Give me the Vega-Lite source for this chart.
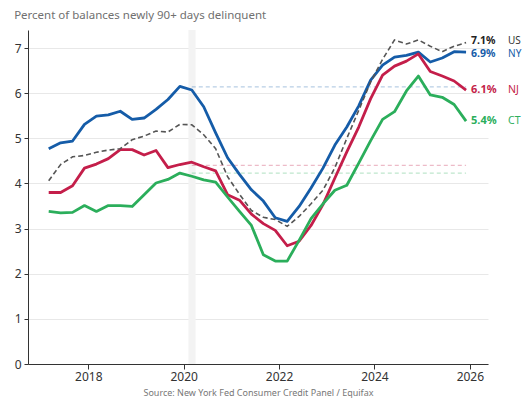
{
  "$schema": "https://vega.github.io/schema/vega-lite/v6.json",
  "width": 460,
  "height": 334,
  "autosize": {"type": "none"},
  "padding": {"left": 28, "top": 30, "right": 39, "bottom": 44},
  "background": "white",
  "config": {"font": "Noto Sans", "view": {"stroke": null}},
  "title": {"text": "Percent of balances newly 90+ days delinquent", "anchor": "start", "fontSize": 11.5, "fontWeight": "normal", "color": "#707070", "offset": 9},
  "datasets": {
    "band": [{"a": 2020.1, "b": 2020.25}],
    "refs": [
      {"s": "NY", "v": 6.14, "a": 2020.17, "b": 2025.92},
      {"s": "NJ", "v": 4.40, "a": 2020.17, "b": 2025.92},
      {"s": "CT", "v": 4.23, "a": 2020.17, "b": 2025.92}
    ],
    "labels": [
      {"s": "US", "t": 2025.92, "v": 7.12, "lab": "7.1%", "name": "US"},
      {"s": "NY", "t": 2025.92, "v": 6.91, "lab": "6.9%", "name": "NY"},
      {"s": "NJ", "t": 2025.92, "v": 6.07, "lab": "6.1%", "name": "NJ"},
      {"s": "CT", "t": 2025.92, "v": 5.38, "lab": "5.4%", "name": "CT"}
    ],
    "series": [
      {"t": 2017.17, "s": "NY", "v": 4.77}, {"t": 2017.42, "s": "NY", "v": 4.90}, {"t": 2017.67, "s": "NY", "v": 4.94}, {"t": 2017.92, "s": "NY", "v": 5.31},
      {"t": 2018.17, "s": "NY", "v": 5.49}, {"t": 2018.42, "s": "NY", "v": 5.52}, {"t": 2018.67, "s": "NY", "v": 5.60}, {"t": 2018.92, "s": "NY", "v": 5.42},
      {"t": 2019.17, "s": "NY", "v": 5.45}, {"t": 2019.42, "s": "NY", "v": 5.64}, {"t": 2019.67, "s": "NY", "v": 5.86}, {"t": 2019.92, "s": "NY", "v": 6.15},
      {"t": 2020.17, "s": "NY", "v": 6.07}, {"t": 2020.42, "s": "NY", "v": 5.70}, {"t": 2020.67, "s": "NY", "v": 5.12}, {"t": 2020.92, "s": "NY", "v": 4.57},
      {"t": 2021.17, "s": "NY", "v": 4.20}, {"t": 2021.42, "s": "NY", "v": 3.86}, {"t": 2021.67, "s": "NY", "v": 3.61}, {"t": 2021.92, "s": "NY", "v": 3.24},
      {"t": 2022.17, "s": "NY", "v": 3.16}, {"t": 2022.42, "s": "NY", "v": 3.49}, {"t": 2022.67, "s": "NY", "v": 3.90}, {"t": 2022.92, "s": "NY", "v": 4.34},
      {"t": 2023.17, "s": "NY", "v": 4.85}, {"t": 2023.42, "s": "NY", "v": 5.25}, {"t": 2023.67, "s": "NY", "v": 5.72}, {"t": 2023.92, "s": "NY", "v": 6.29},
      {"t": 2024.17, "s": "NY", "v": 6.62}, {"t": 2024.42, "s": "NY", "v": 6.80}, {"t": 2024.67, "s": "NY", "v": 6.84}, {"t": 2024.92, "s": "NY", "v": 6.91},
      {"t": 2025.17, "s": "NY", "v": 6.69}, {"t": 2025.42, "s": "NY", "v": 6.78}, {"t": 2025.67, "s": "NY", "v": 6.92}, {"t": 2025.92, "s": "NY", "v": 6.91},

      {"t": 2017.17, "s": "US", "v": 4.06}, {"t": 2017.42, "s": "US", "v": 4.42}, {"t": 2017.67, "s": "US", "v": 4.59}, {"t": 2017.92, "s": "US", "v": 4.62},
      {"t": 2018.17, "s": "US", "v": 4.69}, {"t": 2018.42, "s": "US", "v": 4.74}, {"t": 2018.67, "s": "US", "v": 4.77}, {"t": 2018.92, "s": "US", "v": 4.97},
      {"t": 2019.17, "s": "US", "v": 5.05}, {"t": 2019.42, "s": "US", "v": 5.16}, {"t": 2019.67, "s": "US", "v": 5.14}, {"t": 2019.92, "s": "US", "v": 5.31},
      {"t": 2020.17, "s": "US", "v": 5.30}, {"t": 2020.42, "s": "US", "v": 5.08}, {"t": 2020.67, "s": "US", "v": 4.77}, {"t": 2020.92, "s": "US", "v": 4.15},
      {"t": 2021.17, "s": "US", "v": 3.76}, {"t": 2021.42, "s": "US", "v": 3.40}, {"t": 2021.67, "s": "US", "v": 3.25}, {"t": 2021.92, "s": "US", "v": 3.20},
      {"t": 2022.17, "s": "US", "v": 3.05}, {"t": 2022.42, "s": "US", "v": 3.27}, {"t": 2022.67, "s": "US", "v": 3.55}, {"t": 2022.92, "s": "US", "v": 3.85},
      {"t": 2023.17, "s": "US", "v": 4.35}, {"t": 2023.42, "s": "US", "v": 5.00}, {"t": 2023.67, "s": "US", "v": 5.62}, {"t": 2023.92, "s": "US", "v": 6.25},
      {"t": 2024.17, "s": "US", "v": 6.75}, {"t": 2024.42, "s": "US", "v": 7.18}, {"t": 2024.67, "s": "US", "v": 7.09}, {"t": 2024.92, "s": "US", "v": 7.18},
      {"t": 2025.17, "s": "US", "v": 7.04}, {"t": 2025.42, "s": "US", "v": 6.92}, {"t": 2025.67, "s": "US", "v": 7.04}, {"t": 2025.92, "s": "US", "v": 7.12},

      {"t": 2017.17, "s": "NJ", "v": 3.80}, {"t": 2017.42, "s": "NJ", "v": 3.80}, {"t": 2017.67, "s": "NJ", "v": 3.95}, {"t": 2017.92, "s": "NJ", "v": 4.34},
      {"t": 2018.17, "s": "NJ", "v": 4.43}, {"t": 2018.42, "s": "NJ", "v": 4.55}, {"t": 2018.67, "s": "NJ", "v": 4.75}, {"t": 2018.92, "s": "NJ", "v": 4.75},
      {"t": 2019.17, "s": "NJ", "v": 4.63}, {"t": 2019.42, "s": "NJ", "v": 4.73}, {"t": 2019.67, "s": "NJ", "v": 4.35}, {"t": 2019.92, "s": "NJ", "v": 4.42},
      {"t": 2020.17, "s": "NJ", "v": 4.47}, {"t": 2020.42, "s": "NJ", "v": 4.37}, {"t": 2020.67, "s": "NJ", "v": 4.28}, {"t": 2020.92, "s": "NJ", "v": 3.75},
      {"t": 2021.17, "s": "NJ", "v": 3.63}, {"t": 2021.42, "s": "NJ", "v": 3.32}, {"t": 2021.67, "s": "NJ", "v": 3.11}, {"t": 2021.92, "s": "NJ", "v": 2.96},
      {"t": 2022.17, "s": "NJ", "v": 2.62}, {"t": 2022.42, "s": "NJ", "v": 2.72}, {"t": 2022.67, "s": "NJ", "v": 3.07}, {"t": 2022.92, "s": "NJ", "v": 3.53},
      {"t": 2023.17, "s": "NJ", "v": 4.12}, {"t": 2023.42, "s": "NJ", "v": 4.70}, {"t": 2023.67, "s": "NJ", "v": 5.25}, {"t": 2023.92, "s": "NJ", "v": 5.88},
      {"t": 2024.17, "s": "NJ", "v": 6.40}, {"t": 2024.42, "s": "NJ", "v": 6.60}, {"t": 2024.67, "s": "NJ", "v": 6.71}, {"t": 2024.92, "s": "NJ", "v": 6.87},
      {"t": 2025.17, "s": "NJ", "v": 6.48}, {"t": 2025.42, "s": "NJ", "v": 6.38}, {"t": 2025.67, "s": "NJ", "v": 6.27}, {"t": 2025.92, "s": "NJ", "v": 6.07},

      {"t": 2017.17, "s": "CT", "v": 3.38}, {"t": 2017.42, "s": "CT", "v": 3.35}, {"t": 2017.67, "s": "CT", "v": 3.36}, {"t": 2017.92, "s": "CT", "v": 3.51},
      {"t": 2018.17, "s": "CT", "v": 3.38}, {"t": 2018.42, "s": "CT", "v": 3.51}, {"t": 2018.67, "s": "CT", "v": 3.51}, {"t": 2018.92, "s": "CT", "v": 3.49},
      {"t": 2019.17, "s": "CT", "v": 3.75}, {"t": 2019.42, "s": "CT", "v": 4.01}, {"t": 2019.67, "s": "CT", "v": 4.09}, {"t": 2019.92, "s": "CT", "v": 4.23},
      {"t": 2020.17, "s": "CT", "v": 4.16}, {"t": 2020.42, "s": "CT", "v": 4.08}, {"t": 2020.67, "s": "CT", "v": 4.03}, {"t": 2020.92, "s": "CT", "v": 3.70},
      {"t": 2021.17, "s": "CT", "v": 3.38}, {"t": 2021.42, "s": "CT", "v": 3.07}, {"t": 2021.67, "s": "CT", "v": 2.42}, {"t": 2021.92, "s": "CT", "v": 2.28},
      {"t": 2022.17, "s": "CT", "v": 2.28}, {"t": 2022.42, "s": "CT", "v": 2.74}, {"t": 2022.67, "s": "CT", "v": 3.22}, {"t": 2022.92, "s": "CT", "v": 3.55},
      {"t": 2023.17, "s": "CT", "v": 3.85}, {"t": 2023.42, "s": "CT", "v": 3.96}, {"t": 2023.67, "s": "CT", "v": 4.45}, {"t": 2023.92, "s": "CT", "v": 4.95},
      {"t": 2024.17, "s": "CT", "v": 5.42}, {"t": 2024.42, "s": "CT", "v": 5.59}, {"t": 2024.67, "s": "CT", "v": 6.05}, {"t": 2024.92, "s": "CT", "v": 6.38},
      {"t": 2025.17, "s": "CT", "v": 5.96}, {"t": 2025.42, "s": "CT", "v": 5.91}, {"t": 2025.67, "s": "CT", "v": 5.75}, {"t": 2025.92, "s": "CT", "v": 5.38}
    ]
  },
  "layer": [
    {
      "data": {"name": "band"},
      "mark": {"type": "rect", "color": "#f3f3f3"},
      "encoding": {
        "x": {"field": "a", "type": "quantitative", "scale": {"domain": [2016.736, 2026.38], "nice": false, "zero": false},
          "axis": {"values": [2018, 2020, 2022, 2024, 2026], "format": "d", "grid": false, "domainColor": "#333333", "tickColor": "#333333", "tickSize": 5, "labelFontSize": 12, "labelColor": "#333333", "labelPadding": 2,
            "title": "Source: New York Fed Consumer Credit Panel / Equifax", "titleFontSize": 9, "titleFontWeight": "normal", "titleColor": "#777777", "titlePadding": 6}},
        "x2": {"field": "b"}
      }
    },
    {
      "data": {"name": "refs"},
      "mark": {"type": "rule", "strokeDash": [4, 3], "strokeWidth": 1.2, "opacity": 0.3},
      "encoding": {
        "x": {"field": "a", "type": "quantitative"},
        "x2": {"field": "b"},
        "y": {"field": "v", "type": "quantitative", "scale": {"domain": [0, 7.4], "nice": false},
          "axis": {"values": [0, 1, 2, 3, 4, 5, 6, 7], "grid": true, "gridColor": "#e8e8e8", "domainColor": "#333333", "tickColor": "#333333", "tickSize": 4, "labelFontSize": 12, "labelColor": "#333333", "labelPadding": 3, "title": null}},
        "color": {"field": "s", "type": "nominal", "scale": {"domain": ["US", "NY", "NJ", "CT"], "range": ["#555555", "#155ca8", "#c41e4a", "#2bae5b"]}, "legend": null}
      }
    },
    {
      "data": {"name": "series"},
      "transform": [{"filter": "datum.s !== 'US'"}],
      "mark": {"type": "line", "strokeWidth": 2.8, "strokeJoin": "round"},
      "encoding": {
        "x": {"field": "t", "type": "quantitative"},
        "y": {"field": "v", "type": "quantitative"},
        "color": {"field": "s", "type": "nominal", "legend": null},
        "order": {"field": "t", "type": "quantitative"}
      }
    },
    {
      "data": {"name": "series"},
      "transform": [{"filter": "datum.s === 'US'"}],
      "mark": {"type": "line", "strokeWidth": 1.6, "strokeDash": [5, 3], "color": "#555555"},
      "encoding": {
        "x": {"field": "t", "type": "quantitative"},
        "y": {"field": "v", "type": "quantitative"}
      }
    },
    {
      "data": {"name": "labels"},
      "transform": [{"filter": "datum.s !== 'US' && datum.s !== 'NY'"}],
      "mark": {"type": "text", "align": "left", "baseline": "middle", "dx": 5, "fontSize": 11, "fontWeight": "bold"},
      "encoding": {
        "x": {"field": "t", "type": "quantitative"},
        "y": {"field": "v", "type": "quantitative"},
        "text": {"field": "lab"},
        "color": {"field": "s", "type": "nominal", "legend": null}
      }
    },
    {
      "data": {"name": "labels"},
      "transform": [{"filter": "datum.s === 'NY'"}],
      "mark": {"type": "text", "align": "left", "baseline": "middle", "dx": 5, "dy": 2, "fontSize": 10.5, "fontWeight": "bold", "color": "#155ca8"},
      "encoding": {
        "x": {"field": "t", "type": "quantitative"},
        "y": {"field": "v", "type": "quantitative"},
        "text": {"field": "lab"}
      }
    },
    {
      "data": {"name": "labels"},
      "transform": [{"filter": "datum.s === 'US'"}],
      "mark": {"type": "text", "align": "left", "baseline": "middle", "dx": 5, "dy": -2, "fontSize": 10.5, "fontWeight": "bold", "color": "#222222"},
      "encoding": {
        "x": {"field": "t", "type": "quantitative"},
        "y": {"field": "v", "type": "quantitative"},
        "text": {"field": "lab"}
      }
    },
    {
      "data": {"name": "labels"},
      "transform": [{"filter": "datum.s !== 'US' && datum.s !== 'NY'"}],
      "mark": {"type": "text", "align": "left", "baseline": "middle", "dx": 42, "fontSize": 10.5},
      "encoding": {
        "x": {"field": "t", "type": "quantitative"},
        "y": {"field": "v", "type": "quantitative"},
        "text": {"field": "name"},
        "color": {"field": "s", "type": "nominal", "legend": null}
      }
    },
    {
      "data": {"name": "labels"},
      "transform": [{"filter": "datum.s === 'NY'"}],
      "mark": {"type": "text", "align": "left", "baseline": "middle", "dx": 42, "dy": 2, "fontSize": 10, "color": "#155ca8"},
      "encoding": {
        "x": {"field": "t", "type": "quantitative"},
        "y": {"field": "v", "type": "quantitative"},
        "text": {"field": "name"}
      }
    },
    {
      "data": {"name": "labels"},
      "transform": [{"filter": "datum.s === 'US'"}],
      "mark": {"type": "text", "align": "left", "baseline": "middle", "dx": 42, "dy": -2, "fontSize": 10, "color": "#333333"},
      "encoding": {
        "x": {"field": "t", "type": "quantitative"},
        "y": {"field": "v", "type": "quantitative"},
        "text": {"field": "name"}
      }
    }
  ]
}
